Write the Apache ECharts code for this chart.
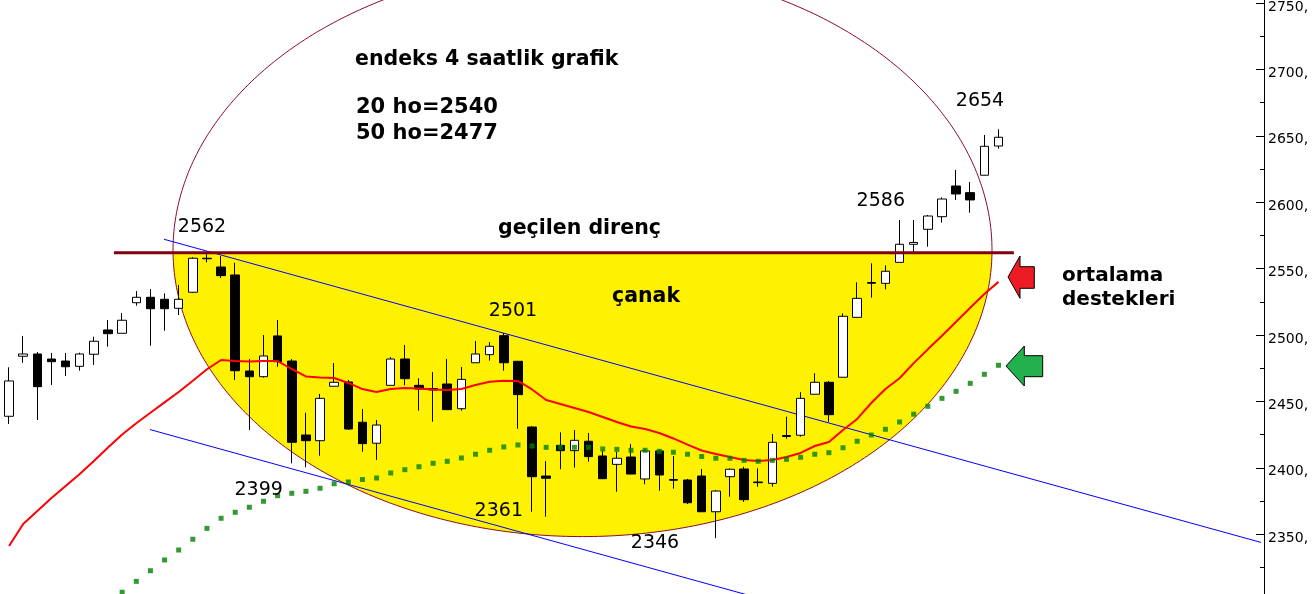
<!DOCTYPE html>
<html>
<head>
<meta charset="utf-8">
<script src="https://cdn.jsdelivr.net/npm/echarts/dist/echarts.min.js"></script>
<style>
html,body{margin:0;padding:0;background:#fff;}
#chart{width:1316px;height:594px;}
</style>
</head>
<body>
<div id="chart"></div>
<script>
// ---- data (4-hour bars) ----
const barCount = 71;
const slotCount = 89; // bars plus empty space to the right
const categories = Array.from({length: slotCount}, (_, i) => 'B' + (i + 1));

const opens = [2438.8, 2484.0, 2485.7, 2481.9, 2480.4, 2476.4, 2485.5, 2503.8, 2501.3, 2524.3,
 2528.4, 2526.9, 2520.1, 2532.2, 2557.8, 2551.2, 2545.2, 2472.9, 2468.6, 2499.3,
 2480.4, 2424.7, 2420.4, 2461.4, 2464.6, 2434.3, 2418.5, 2462.1, 2481.9, 2462.1,
 2459.7, 2463.1, 2444.5, 2479.1, 2485.2, 2499.5, 2480.2, 2430.7, 2393.8, 2416.9,
 2412.9, 2420.0, 2408.9, 2402.6, 2408.1, 2391.6, 2412.7, 2391.2, 2390.8, 2393.8,
 2366.9, 2393.3, 2399.1, 2389.3, 2388.3, 2424.3, 2424.5, 2455.4, 2464.4, 2468.2,
 2513.3, 2539.5, 2538.9, 2554.7, 2568.3, 2579.6, 2589.1, 2612.2, 2607.2, 2620.3,
 2642.3];
const closes = [2465.4, 2485.7, 2461.1, 2479.9, 2476.1, 2485.7, 2495.3, 2501.0, 2511.1, 2528.4,
 2519.8, 2519.8, 2526.9, 2557.8, 2557.4, 2544.7, 2473.1, 2468.6, 2484.2, 2479.9,
 2419.2, 2420.4, 2452.3, 2464.4, 2429.2, 2418.2, 2432.2, 2481.9, 2467.1, 2459.3,
 2458.6, 2443.8, 2466.6, 2485.7, 2491.5, 2479.1, 2455.1, 2393.3, 2392.1, 2412.9,
 2420.7, 2408.4, 2391.8, 2407.2, 2395.3, 2412.7, 2394.6, 2390.6, 2373.7, 2366.9,
 2382.5, 2398.9, 2376.0, 2388.8, 2419.2, 2423.6, 2452.3, 2464.4, 2440.0, 2514.1,
 2527.6, 2539.0, 2548.0, 2568.3, 2569.7, 2589.6, 2602.4, 2606.2, 2601.7, 2642.1,
 2648.9];
const lows = [2433.0, 2479.1, 2436.0, 2462.4, 2469.1, 2473.1, 2477.4, 2491.2, 2501.3, 2522.1,
 2491.9, 2503.2, 2515.1, 2531.6, 2554.7, 2542.9, 2466.1, 2428.5, 2467.9, 2476.1,
 2403.4, 2400.4, 2409.1, 2461.4, 2428.5, 2412.1, 2405.9, 2462.1, 2462.1, 2443.0,
 2434.7, 2443.8, 2443.0, 2479.1, 2480.7, 2473.1, 2429.4, 2366.9, 2363.2, 2398.9,
 2400.1, 2404.6, 2391.8, 2382.0, 2395.3, 2387.6, 2382.8, 2384.3, 2372.7, 2366.7,
 2347.0, 2378.2, 2374.3, 2385.8, 2385.8, 2421.9, 2423.4, 2455.4, 2434.5, 2468.2,
 2513.3, 2528.1, 2534.4, 2554.7, 2561.5, 2566.5, 2584.6, 2601.7, 2592.1, 2620.3,
 2640.3];
const highs = [2475.7, 2499.3, 2487.2, 2486.5, 2486.5, 2486.7, 2498.7, 2511.3, 2516.6, 2533.1,
 2534.6, 2531.4, 2537.7, 2558.7, 2561.5, 2559.5, 2554.4, 2481.9, 2500.0, 2511.3,
 2481.9, 2441.5, 2455.6, 2478.9, 2466.1, 2444.3, 2436.0, 2483.4, 2492.5, 2467.4,
 2472.1, 2481.9, 2475.9, 2495.5, 2494.7, 2501.5, 2480.2, 2431.5, 2405.1, 2426.7,
 2428.5, 2426.2, 2412.9, 2412.1, 2417.9, 2413.8, 2413.9, 2408.9, 2391.6, 2399.1,
 2383.3, 2399.5, 2400.8, 2399.6, 2425.5, 2438.5, 2456.9, 2471.2, 2465.4, 2516.3,
 2539.7, 2554.0, 2552.5, 2586.6, 2586.6, 2590.4, 2603.7, 2624.3, 2615.2, 2650.6,
 2654.9];

// 20-bar moving average (red)
const ma20 = [2341.1, 2357.7, 2367.5, 2377.3, 2386.3, 2395.3, 2405.1, 2415.3, 2425.1, 2433.6,
 2441.5, 2449.3, 2457.1, 2465.6, 2474.2, 2481.2, 2480.4, 2480.0, 2480.4, 2480.4,
 2474.4, 2468.8, 2468.0, 2467.6, 2463.9, 2459.3, 2457.1, 2459.3, 2460.1, 2459.7,
 2459.0, 2458.6, 2459.3, 2462.4, 2464.8, 2465.6, 2465.4, 2459.0, 2451.1, 2448.0,
 2445.0, 2442.0, 2438.3, 2434.5, 2431.1, 2429.2, 2426.2, 2422.1, 2417.5, 2413.0,
 2410.4, 2408.1, 2405.9, 2405.1, 2405.9, 2408.1, 2411.2, 2416.4, 2419.4, 2428.5,
 2436.8, 2448.8, 2459.3, 2467.4, 2478.8, 2489.2, 2499.5, 2510.0, 2520.5, 2530.9,
 2540.0];

// 50-bar moving average (green dots)
const ma50 = [null, null, null, null, null, null, null, null,
 2306.3, 2314.5, 2322.5, 2330.6, 2338.1, 2346.2, 2354.4, 2362.0, 2366.5, 2370.3,
 2374.8, 2379.0, 2380.8, 2382.3, 2384.6, 2388.0, 2389.3, 2391.2, 2392.3, 2396.1,
 2398.6, 2400.8, 2403.4, 2404.9, 2407.4, 2410.2, 2413.2, 2415.7, 2417.2, 2416.4,
 2415.4, 2415.4, 2415.4, 2415.4, 2414.2, 2413.9, 2413.2, 2413.2, 2412.4, 2411.7,
 2410.2, 2408.5, 2407.2, 2407.2, 2405.6, 2404.9, 2405.6, 2406.4, 2407.9, 2410.2,
 2411.4, 2415.1, 2420.0, 2424.7, 2429.0, 2434.5, 2440.4, 2446.3, 2452.3, 2457.6,
 2463.6, 2470.4, 2477.2];

// drawn annotations, in [bar index, index value] terms
const resistanceLevel = 2562;
const resistanceSpan = [7.42, 71.09];
const upperTrend = [[10.96, 2572.1], [88.78, 2343.2]];
const lowerTrend = [[9.97, 2428.8], [52.5, 2303.5]];
const bowl = {cx: 40.57, cy: 2563.9, rx: 28.97, ry: 215.7};

// ---- chart ----
const chart = echarts.init(document.getElementById('chart'), null, {renderer: 'canvas'});

const FONT = '"DejaVu Sans", Verdana, sans-serif';
function txt(text, x, y, size, bold, align) {
  return {
    type: 'text', x: x, y: y, z: 100, silent: true,
    style: {
      text: text, fill: '#000',
      font: (bold ? 'bold ' : '') + size + 'px ' + FONT,
      align: align || 'left', verticalAlign: 'middle'
    }
  };
}
function arrow(points, color) {
  return {
    type: 'polygon', z: 100, silent: true,
    shape: {points: points},
    style: {fill: color, stroke: '#000', lineWidth: 1}
  };
}

const option = {
  animation: false,
  backgroundColor: '#ffffff',
  grid: {left: 2, top: -63.4, width: 1258, height: 664, containLabel: false, outerBoundsMode: 'none'},
  xAxis: [
    {type: 'category', data: categories, boundaryGap: true, show: false},
    {type: 'value', min: -0.5, max: slotCount - 0.5, show: false}
  ],
  yAxis: {
    type: 'value', position: 'right', offset: 4,
    min: 2300, max: 2800, interval: 50,
    splitLine: {show: false},
    axisLine: {show: true, onZero: false, lineStyle: {color: '#000', width: 1}},
    axisTick: {show: true, inside: true, length: 8, lineStyle: {color: '#000'}},
    minorTick: {show: true, splitNumber: 2, length: 4, lineStyle: {color: '#000'}},
    minorSplitLine: {show: false},
    axisLabel: {
      color: '#000', fontFamily: FONT, fontSize: 14, margin: 4,
      verticalAlign: 'top', lineHeight: 8,
      formatter: function (v) { return v + ','; }
    }
  },
  series: [
    {
      type: 'custom', name: 'çanak', xAxisIndex: 1, yAxisIndex: 0, z: 1, silent: true,
      clip: false,
      data: [[bowl.cx, bowl.cy, bowl.rx, bowl.ry, resistanceLevel]],
      renderItem: function (params, api) {
        const c = api.coord([api.value(0), api.value(1)]);
        const s = api.size([api.value(2), api.value(3)]);
        const lineY = api.coord([api.value(0), api.value(4)])[1];
        const t0 = Math.asin(Math.max(-1, Math.min(1, (lineY - c[1]) / s[1])));
        const fill = [], full = [];
        const n = 240;
        for (let k = 0; k <= n; k++) {
          const t = t0 + (Math.PI - 2 * t0) * k / n;
          fill.push([c[0] + s[0] * Math.cos(t), c[1] + s[1] * Math.sin(t)]);
        }
        for (let k = 0; k < 480; k++) {
          const t = Math.PI * 2 * k / 480;
          full.push([c[0] + s[0] * Math.cos(t), c[1] + s[1] * Math.sin(t)]);
        }
        return {
          type: 'group',
          children: [
            {type: 'polygon', shape: {points: fill}, style: {fill: '#fff200', stroke: null}},
            {type: 'polygon', shape: {points: full}, style: {fill: 'none', stroke: '#8b0a2a', lineWidth: 1}}
          ]
        };
      }
    },
    {
      type: 'line', xAxisIndex: 1, z: 2, clip: false, silent: true,
      data: upperTrend, symbol: 'none',
      lineStyle: {color: '#0000ff', width: 1}
    },
    {
      type: 'line', xAxisIndex: 1, z: 2, clip: false, silent: true,
      data: lowerTrend, symbol: 'none',
      lineStyle: {color: '#0000ff', width: 1}
    },
    {
      type: 'candlestick', xAxisIndex: 0, z: 3, barWidth: 9,
      data: opens.map((o, i) => [o, closes[i], lows[i], highs[i]]),
      itemStyle: {
        color: '#ffffff', color0: '#000000',
        borderColor: '#000000', borderColor0: '#000000', borderWidth: 1
      }
    },
    {
      type: 'line', xAxisIndex: 1, z: 4, clip: false, silent: true,
      data: [[resistanceSpan[0], resistanceLevel], [resistanceSpan[1], resistanceLevel]],
      symbol: 'none',
      lineStyle: {color: '#800010', width: 3}
    },
    {
      type: 'line', name: '20 ho', xAxisIndex: 0, z: 5, silent: true,
      data: ma20, symbol: 'none',
      lineStyle: {color: '#ff0000', width: 2}
    },
    {
      type: 'scatter', name: '50 ho', xAxisIndex: 0, z: 5, silent: true,
      data: ma50.map((v, i) => [i, v]).filter(p => p[1] !== null),
      symbol: 'rect', symbolSize: 5,
      itemStyle: {color: '#008000'}
    }
  ],
  graphic: [
    txt('endeks 4 saatlik grafik', 355, 59.5, 20.5, true),
    txt('20 ho=2540', 356, 108, 21, true),
    txt('50 ho=2477', 356, 133.5, 21, true),
    txt('2562', 202, 227, 19, false, 'center'),
    txt('geçilen direnç', 498, 229, 20.5, true),
    txt('çanak', 612, 297, 20.5, true),
    txt('2501', 513, 311, 19, false, 'center'),
    txt('2399', 258.7, 490.3, 19, false, 'center'),
    txt('2361', 498.8, 510.8, 19, false, 'center'),
    txt('2346', 655, 543, 19, false, 'center'),
    txt('2586', 880.8, 200.8, 19, false, 'center'),
    txt('2654', 980, 101, 19, false, 'center'),
    txt('ortalama', 1062, 275.5, 20, true),
    txt('destekleri', 1062, 300, 20, true),
    arrow([[1008, 277], [1020, 256], [1020, 266.7], [1034.3, 266.7], [1034.3, 288.3], [1020, 288.3], [1020, 298.3]], '#ed1c24'),
    arrow([[1006, 366], [1024.3, 346], [1024.3, 355.7], [1042.7, 355.7], [1042.7, 376.7], [1024.3, 376.7], [1024.3, 386]], '#22b14c')
  ]
};
chart.setOption(option);
</script>
</body>
</html>
